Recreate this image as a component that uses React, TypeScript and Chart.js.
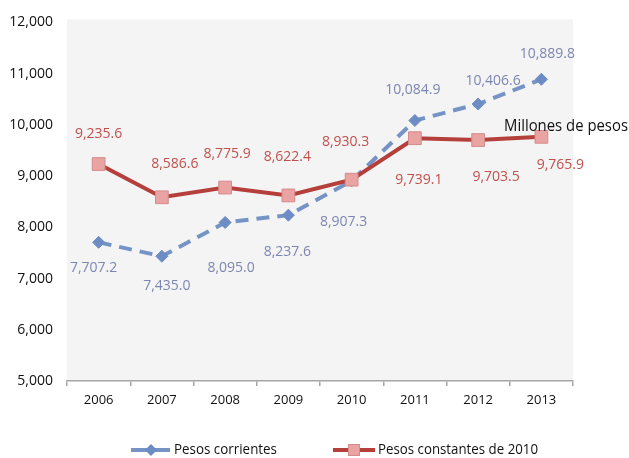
import React, { useEffect, useRef } from "react";
import { Chart, registerables } from "chart.js";

Chart.register(...registerables);

const years = ["2006", "2007", "2008", "2009", "2010", "2011", "2012", "2013"];
const pesosCorrientes = [7707.2, 7435.0, 8095.0, 8237.6, 8907.3, 10084.9, 10406.6, 10889.8];
const pesosConstantes = [9235.6, 8586.6, 8775.9, 8622.4, 8930.3, 9739.1, 9703.5, 9765.9];
const seriesNames = ["Pesos corrientes", "Pesos constantes de 2010"];
const unitNote = "Millones de pesos";
const yMin = 5000;
const yMax = 12000;
const yStep = 1000;

// label offsets (dx, dy) from each point, in pixels
const corrOffsets = [[-5, 26], [5, 30], [6, 46], [-1, 37], [-8, 41], [-2, -30], [15, -23], [6, -25]];
const constOffsets = [[0, -30], [13, -33], [2, -34], [-1, -38], [-6, -38], [4, 42], [18, 37], [19, 28]];

const FONT = "'Open Sans', 'DejaVu Sans', sans-serif";
const BLUE_LINE = "#7693c6";
const BLUE_PT = "#6d8cc4";
const BLUE_TXT = "#7d86b2";
const RED_LINE = "#b53f3a";
const RED_FILL = "#e9a3a3";
const RED_BORDER = "#d88a8a";
const RED_TXT = "#c0504d";

const fmt1 = (v: number) =>
  v.toLocaleString("en-US", { minimumFractionDigits: 1, maximumFractionDigits: 1 });

const bgPlugin = {
  id: "bg",
  beforeDraw(chart: any) {
    const { ctx, chartArea } = chart;
    ctx.save();
    ctx.fillStyle = "#f4f4f4";
    ctx.fillRect(chartArea.left, chartArea.top - 3, chartArea.right - chartArea.left, chartArea.bottom - chartArea.top + 3);
    ctx.restore();
  },
};

const labelPlugin = {
  id: "dlabels",
  afterDatasetsDraw(chart: any) {
    const { ctx } = chart;
    ctx.save();
    ctx.font = `14px ${FONT}`;
    ctx.textAlign = "center";
    ctx.textBaseline = "middle";
    chart.data.datasets.forEach((ds: any, di: number) => {
      const meta = chart.getDatasetMeta(di);
      const offs = di === 0 ? corrOffsets : constOffsets;
      ctx.fillStyle = di === 0 ? BLUE_TXT : RED_TXT;
      meta.data.forEach((pt: any, i: number) => {
        ctx.fillText(fmt1(ds.data[i]), pt.x + offs[i][0], pt.y + offs[i][1]);
      });
    });
    ctx.restore();
  },
  afterDraw(chart: any) {
    const { ctx } = chart;
    ctx.save();
    // unit note
    ctx.font = `16px ${FONT}`;
    ctx.fillStyle = "#111";
    ctx.textAlign = "left";
    ctx.textBaseline = "middle";
    ctx.fillText(unitNote, 504, 126, 124);

    // legend
    const ly = 450;
    ctx.font = `14px ${FONT}`;
    ctx.fillStyle = "#111";
    // item 1
    ctx.strokeStyle = BLUE_LINE;
    ctx.lineWidth = 4;
    ctx.beginPath();
    ctx.moveTo(131, ly);
    ctx.lineTo(170, ly);
    ctx.stroke();
    ctx.fillStyle = BLUE_PT;
    ctx.beginPath();
    ctx.moveTo(151, ly - 6);
    ctx.lineTo(157, ly);
    ctx.lineTo(151, ly + 6);
    ctx.lineTo(145, ly);
    ctx.closePath();
    ctx.fill();
    ctx.fillStyle = "#111";
    ctx.fillText(seriesNames[0], 174, ly, 103);
    // item 2
    ctx.strokeStyle = RED_LINE;
    ctx.beginPath();
    ctx.moveTo(333, ly);
    ctx.lineTo(375, ly);
    ctx.stroke();
    ctx.fillStyle = RED_FILL;
    ctx.strokeStyle = RED_BORDER;
    ctx.lineWidth = 1;
    ctx.fillRect(348, ly - 6, 12, 12);
    ctx.strokeRect(348.5, ly - 5.5, 11, 11);
    ctx.fillStyle = "#111";
    ctx.fillText(seriesNames[1], 378, ly, 160);
    ctx.restore();
  },
};

export default function App() {
  const ref = useRef<HTMLCanvasElement>(null);
  useEffect(() => {
    document.body.style.margin = "0";
    const chart = new Chart(ref.current!, {
      type: "line",
      data: {
        labels: years,
        datasets: [
          {
            label: seriesNames[0],
            data: pesosCorrientes,
            borderColor: BLUE_LINE,
            borderWidth: 4,
            borderDash: [13, 8],
            pointStyle: "rectRot",
            pointRadius: 6,
            pointBackgroundColor: BLUE_PT,
            pointBorderColor: BLUE_PT,
            pointBorderWidth: 1,
            tension: 0,
            fill: false,
            order: 1,
          },
          {
            label: seriesNames[1],
            data: pesosConstantes,
            borderColor: RED_LINE,
            borderWidth: 4,
            pointStyle: "rect",
            pointRadius: 9,
            pointBackgroundColor: RED_FILL,
            pointBorderColor: RED_BORDER,
            pointBorderWidth: 1,
            tension: 0,
            fill: false,
            order: 0,
          },
        ],
      },
      options: {
        responsive: false,
        animation: false,
        devicePixelRatio: 1,
        layout: { padding: { top: 20, right: 56, bottom: 0, left: 0 } },
        plugins: {
          legend: { display: false },
          tooltip: { enabled: false },
        },
        scales: {
          x: {
            type: "category",
            offset: true,
            afterFit: (s: any) => {
              s.height = 77;
            },
            grid: {
              display: true,
              offset: true,
              drawOnChartArea: false,
              drawTicks: true,
              tickLength: 5,
              color: "#a6a6a6",
              lineWidth: 1.5,
            },
            border: { display: true, color: "#a6a6a6", width: 1.5 },
            ticks: {
              color: "#111",
              font: { family: FONT, size: 13 },
              padding: 6,
              maxRotation: 0,
            },
          },
          y: {
            min: yMin,
            max: yMax,
            afterFit: (s: any) => {
              s.width = 67;
            },
            grid: { display: false, drawTicks: false },
            border: { display: false },
            ticks: {
              stepSize: yStep,
              padding: 14,
              color: "#111",
              font: { family: FONT, size: 14 },
              callback: (v: any) => Number(v).toLocaleString("en-US"),
            },
          },
        },
      },
      plugins: [bgPlugin, labelPlugin],
    });
    return () => chart.destroy();
  }, []);
  return (
    <div style={{ width: 629, height: 458 }}>
      <canvas ref={ref} width={629} height={458} />
    </div>
  );
}
